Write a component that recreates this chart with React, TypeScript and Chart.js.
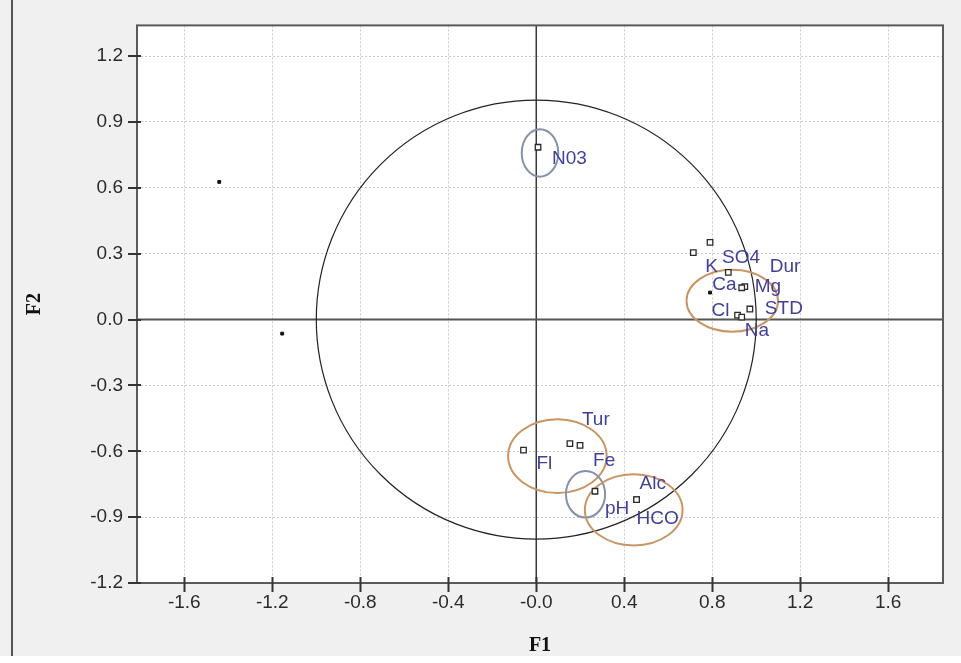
import React, { useEffect, useRef } from "react";
import { Chart, registerables } from "chart.js";

Chart.register(...registerables);

// ---- data ----
const variableNames = ["N03", "SO4", "K", "Dur", "Ca", "Mg", "Cl", "STD", "Na", "Tur", "Fl", "Fe", "pH", "Alc", "HCO"];
const variableF1 = [0.008, 0.79, 0.714, 0.948, 0.873, 0.934, 0.915, 0.971, 0.934, 0.153, -0.058, 0.199, 0.267, 0.456, 0.456];
const variableF2 = [0.785, 0.352, 0.305, 0.15, 0.215, 0.145, 0.02, 0.048, 0.011, -0.565, -0.595, -0.573, -0.782, -0.82, -0.82];

const observationF1 = [-1.441, -1.155, 0.79];
const observationF2 = [0.627, -0.064, 0.123];

const xTickValues = [-1.6, -1.2, -0.8, -0.4, 0, 0.4, 0.8, 1.2, 1.6];
const xTickLabels = ["-1.6", "-1.2", "-0.8", "-0.4", "-0.0", "0.4", "0.8", "1.2", "1.6"];
const yTickValues = [-1.2, -0.9, -0.6, -0.3, 0, 0.3, 0.6, 0.9, 1.2];
const yTickLabels = ["-1.2", "-0.9", "-0.6", "-0.3", "0.0", "0.3", "0.6", "0.9", "1.2"];

// grouping ellipses (center and radii in axis units)
const groupCenterF1 = [0.017, 0.891, 0.096, 0.224, 0.443];
const groupCenterF2 = [0.759, 0.086, -0.622, -0.796, -0.867];
const groupRadiusF1 = [0.083, 0.208, 0.224, 0.089, 0.222];
const groupRadiusF2 = [0.108, 0.141, 0.168, 0.106, 0.162];
const groupKind = ["blue", "orange", "orange", "blue", "orange"];

// ---- layout / style ----
const labelOffsetX = [14, 12, 12, 25, -16, 13, -26, 15, 3, 12, 13, 13, 10, 3, 0];
const labelOffsetY = [12, 15, 14, -20, 12, -1, -4, 0, 14, -24, 14, 15, 18, -16, 19];
const GROUP_COLORS: Record<string, string> = { blue: "#8292ab", orange: "#c99663" };

const decorPlugin = {
  id: "decor",
  beforeDraw(chart: any) {
    const { ctx, width, height, chartArea: a } = chart;
    ctx.save();
    ctx.fillStyle = "#f0f0f0";
    ctx.fillRect(0, 0, width, 656);
    ctx.fillStyle = "#ffffff";
    ctx.fillRect(0, 656, width, height - 656);
    ctx.fillRect(a.left, a.top, a.right - a.left, a.bottom - a.top);
    ctx.strokeStyle = "#555";
    ctx.lineWidth = 2;
    ctx.beginPath();
    ctx.moveTo(12, 0);
    ctx.lineTo(12, 656);
    ctx.stroke();
    ctx.restore();
  },
  beforeDatasetsDraw(chart: any) {
    const { ctx, chartArea: a } = chart;
    const xs = chart.scales.x;
    const ys = chart.scales.y;
    const x0 = xs.getPixelForValue(0);
    const y0 = ys.getPixelForValue(0);
    ctx.save();
    // zero lines
    ctx.strokeStyle = "#3a3a3a";
    ctx.lineWidth = 1.5;
    ctx.beginPath();
    ctx.moveTo(x0, a.top);
    ctx.lineTo(x0, a.bottom);
    ctx.stroke();
    ctx.strokeStyle = "#555";
    ctx.lineWidth = 2;
    ctx.beginPath();
    ctx.moveTo(a.left, y0);
    ctx.lineTo(a.right, y0);
    ctx.stroke();
    // correlation circle
    ctx.strokeStyle = "#222";
    ctx.lineWidth = 1.2;
    ctx.beginPath();
    ctx.ellipse(x0, y0, xs.getPixelForValue(1) - x0, y0 - ys.getPixelForValue(1), 0, 0, Math.PI * 2);
    ctx.stroke();
    // group ellipses
    ctx.lineWidth = 2;
    for (let i = 0; i < groupCenterF1.length; i++) {
      const cx = xs.getPixelForValue(groupCenterF1[i]);
      const cy = ys.getPixelForValue(groupCenterF2[i]);
      const rx = xs.getPixelForValue(groupCenterF1[i] + groupRadiusF1[i]) - cx;
      const ry = cy - ys.getPixelForValue(groupCenterF2[i] + groupRadiusF2[i]);
      ctx.strokeStyle = GROUP_COLORS[groupKind[i]];
      ctx.beginPath();
      ctx.ellipse(cx, cy, rx, ry, 0, 0, Math.PI * 2);
      ctx.stroke();
    }
    // frame
    ctx.strokeStyle = "#5a5a5a";
    ctx.lineWidth = 2;
    ctx.strokeRect(a.left, a.top, a.right - a.left, a.bottom - a.top);
    // tick marks crossing the frame
    ctx.strokeStyle = "#333";
    ctx.lineWidth = 2;
    ctx.beginPath();
    for (const v of xTickValues) {
      const px = Math.round(xs.getPixelForValue(v)) + 0.5;
      ctx.moveTo(px, a.bottom - 6);
      ctx.lineTo(px, a.bottom + 9);
    }
    for (const v of yTickValues) {
      const py = Math.round(ys.getPixelForValue(v));
      ctx.moveTo(a.left - 9, py);
      ctx.lineTo(a.left + 4, py);
    }
    ctx.stroke();
    ctx.restore();
  },
  afterDatasetsDraw(chart: any) {
    const { ctx } = chart;
    const meta = chart.getDatasetMeta(0);
    ctx.save();
    ctx.fillStyle = "#3f3f9e";
    ctx.font = '19px "Liberation Sans", Arial, sans-serif';
    ctx.textAlign = "left";
    ctx.textBaseline = "middle";
    meta.data.forEach((pt: any, i: number) => {
      ctx.fillText(variableNames[i], pt.x + labelOffsetX[i], pt.y + labelOffsetY[i]);
    });
    ctx.restore();
  },
};

export default function App() {
  const ref = useRef<HTMLCanvasElement | null>(null);

  useEffect(() => {
    document.body.style.margin = "0";
    const canvas = ref.current;
    if (!canvas) return;
    const chart = new Chart(canvas, {
      type: "scatter",
      data: {
        datasets: [
          {
            label: "Variables",
            data: variableF1.map((x, i) => ({ x, y: variableF2[i] })),
            pointStyle: "rect",
            radius: 3.9,
            backgroundColor: "#ffffff",
            borderColor: "#2a2a2a",
            borderWidth: 1.3,
          },
          {
            label: "Observations",
            data: observationF1.map((x, i) => ({ x, y: observationF2[i] })),
            pointStyle: "rect",
            radius: 2,
            backgroundColor: "#111111",
            borderColor: "#111111",
            borderWidth: 1,
          },
        ],
      },
      options: {
        responsive: false,
        animation: false,
        events: [],
        layout: { padding: { left: 0, top: 17, right: 18, bottom: 0 } },
        plugins: { legend: { display: false }, tooltip: { enabled: false } },
        scales: {
          x: {
            type: "linear",
            min: -1.815,
            max: 1.849,
            afterFit: (s: any) => {
              s.height = 80;
            },
            afterBuildTicks: (s: any) => {
              s.ticks = xTickValues.map((value) => ({ value }));
            },
            grid: { color: "#c9c9c9", lineWidth: 1, drawTicks: false },
            border: { display: false, dash: [2, 2] },
            ticks: {
              autoSkip: false,
              maxRotation: 0,
              padding: 8,
              color: "#2b2b2b",
              font: { family: '"Liberation Sans", Arial, sans-serif', size: 19 },
              callback: (_v: any, i: number) => xTickLabels[i],
            },
            title: {
              display: true,
              text: "F1",
              color: "#111",
              padding: { top: 0, bottom: 5 },
              font: { family: '"Liberation Serif", "Times New Roman", serif', size: 20, weight: "bold" },
            },
          },
          y: {
            type: "linear",
            min: -1.2,
            max: 1.34,
            afterFit: (s: any) => {
              s.width = 137;
            },
            afterBuildTicks: (s: any) => {
              s.ticks = yTickValues.map((value) => ({ value }));
            },
            grid: { color: "#c9c9c9", lineWidth: 1, drawTicks: false },
            border: { display: false, dash: [2, 2] },
            ticks: {
              autoSkip: false,
              padding: 14,
              color: "#2b2b2b",
              font: { family: '"Liberation Sans", Arial, sans-serif', size: 19 },
              callback: (_v: any, i: number) => yTickLabels[i],
            },
            title: {
              display: true,
              text: "F2",
              color: "#111",
              padding: { top: 23, bottom: 0 },
              font: { family: '"Liberation Serif", "Times New Roman", serif', size: 20, weight: "bold" },
            },
          },
        },
      },
      plugins: [decorPlugin],
    } as any);
    return () => chart.destroy();
  }, []);

  return (
    <div style={{ position: "fixed", left: 0, top: 0, width: 961, height: 663 }}>
      <canvas ref={ref} width={961} height={663} style={{ display: "block" }} />
    </div>
  );
}
